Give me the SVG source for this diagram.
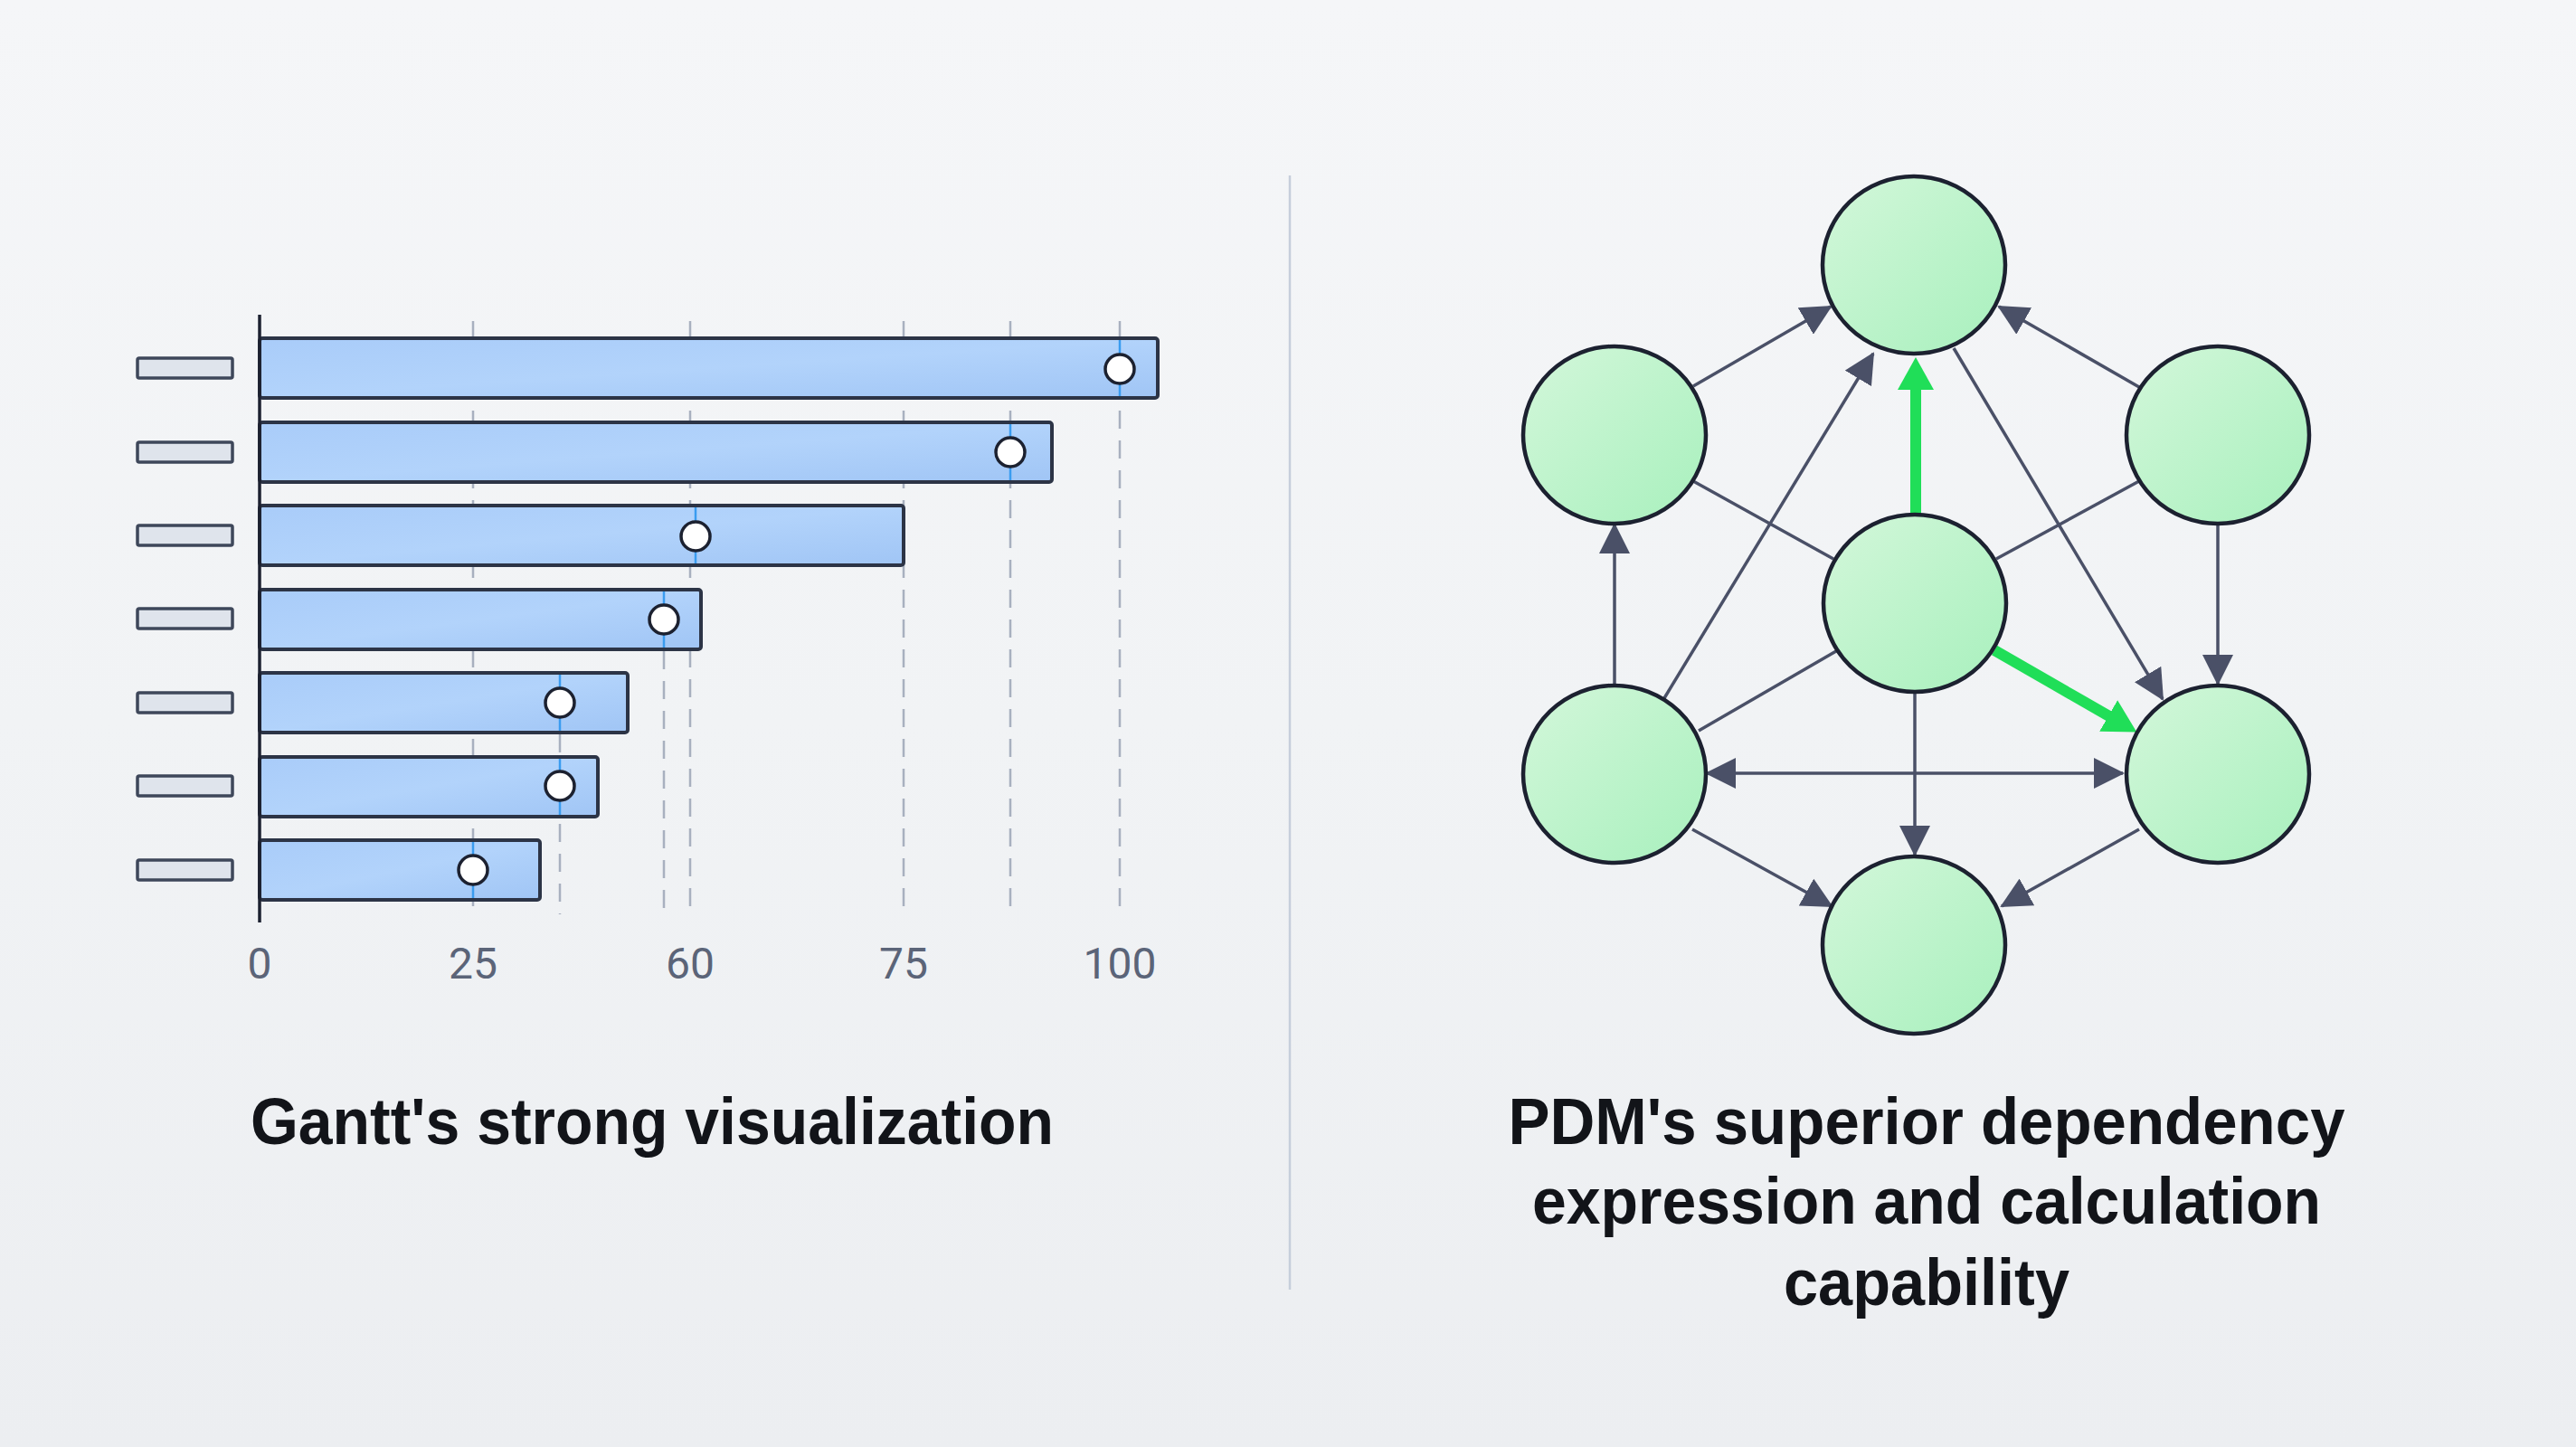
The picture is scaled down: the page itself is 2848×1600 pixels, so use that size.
<svg xmlns="http://www.w3.org/2000/svg" width="2848" height="1600" viewBox="0 0 2848 1600">
<defs>
<linearGradient id="bg" x1="0" y1="0" x2="0" y2="1">
<stop offset="0" stop-color="#f5f6f8"/>
<stop offset="0.5" stop-color="#f1f3f5"/>
<stop offset="1" stop-color="#eceef1"/>
</linearGradient>
<linearGradient id="barFill" x1="0" y1="0" x2="1" y2="1">
<stop offset="0" stop-color="#a9ccf9"/>
<stop offset="0.5" stop-color="#b2d3fb"/>
<stop offset="1" stop-color="#a0c5f5"/>
</linearGradient>
<linearGradient id="nodeFill" x1="0" y1="0" x2="1" y2="1">
<stop offset="0" stop-color="#d3f7da"/>
<stop offset="1" stop-color="#a8f0bd"/>
</linearGradient>
<marker id="arrowDark" markerUnits="userSpaceOnUse" viewBox="0 0 34 34" markerWidth="34" markerHeight="34" refX="32" refY="17" orient="auto-start-reverse">
<path d="M0,0 L34,17 L0,34 z" fill="#4a5067"/>
</marker>
<marker id="arrowGreen" markerUnits="userSpaceOnUse" viewBox="0 0 36 40" markerWidth="36" markerHeight="40" refX="1" refY="20" orient="auto">
<path d="M0,0 L36,20 L0,40 z" fill="#20de58"/>
</marker>
<style>
.label-rect{fill:#dfe4ec;stroke:#3e475a;stroke-width:3.5}
.bar{fill:url(#barFill);stroke:#2c3446;stroke-width:4}
.grid{stroke:#a8b0bf;stroke-width:2.5;stroke-dasharray:20 13;fill:none}
.tick{stroke:#3a9cf0;stroke-width:2.5}
.marker-dot{fill:#ffffff;stroke:#1c2130;stroke-width:3.5}
.axis-num{font-family:Roboto,"Liberation Sans",Arial,sans-serif;font-size:48px;fill:#5b6478;text-anchor:middle}
.title{font-family:"Liberation Sans",Arial,Helvetica,sans-serif;font-weight:bold;font-size:72px;fill:#121419;text-anchor:middle}
.node{fill:url(#nodeFill);stroke:#1c2130;stroke-width:4.5}
.edge{stroke:#4a5067;stroke-width:3.5;fill:none}
.edge-arrow{marker-end:url(#arrowDark)}
.edge-green{stroke:#20de58;stroke-width:12;fill:none;marker-end:url(#arrowGreen)}
</style>
</defs>
<rect x="0" y="0" width="2848" height="1600" fill="url(#bg)"/>

<!-- Gantt chart -->
<g id="gantt-grid">
<line class="grid" x1="523" y1="355" x2="523" y2="1011"/>
<line class="grid" x1="619" y1="812" x2="619" y2="1011"/>
<line class="grid" x1="734" y1="720" x2="734" y2="1011"/>
<line class="grid" x1="763" y1="355" x2="763" y2="1011"/>
<line class="grid" x1="999" y1="355" x2="999" y2="1011"/>
<line class="grid" x1="1117" y1="355" x2="1117" y2="1011"/>
<line class="grid" x1="1238" y1="355" x2="1238" y2="1011"/>
</g>

<g id="gantt-row-1">
<rect class="label-rect" x="152" y="396" width="105" height="22" rx="2"/>
<rect class="bar" x="287" y="374" width="993" height="66" rx="3"/>
<line class="tick" x1="1238" y1="376" x2="1238" y2="438"/>
<circle class="marker-dot" cx="1238" cy="408" r="16"/>
</g>
<g id="gantt-row-2">
<rect class="label-rect" x="152" y="489" width="105" height="22" rx="2"/>
<rect class="bar" x="287" y="467" width="876" height="66" rx="3"/>
<line class="tick" x1="1117" y1="469" x2="1117" y2="531"/>
<circle class="marker-dot" cx="1117" cy="500" r="16"/>
</g>
<g id="gantt-row-3">
<rect class="label-rect" x="152" y="581" width="105" height="22" rx="2"/>
<rect class="bar" x="287" y="559" width="712" height="66" rx="3"/>
<line class="tick" x1="769" y1="561" x2="769" y2="623"/>
<circle class="marker-dot" cx="769" cy="593" r="16"/>
</g>
<g id="gantt-row-4">
<rect class="label-rect" x="152" y="673" width="105" height="22" rx="2"/>
<rect class="bar" x="287" y="652" width="488" height="66" rx="3"/>
<line class="tick" x1="734" y1="654" x2="734" y2="716"/>
<circle class="marker-dot" cx="734" cy="685" r="16"/>
</g>
<g id="gantt-row-5">
<rect class="label-rect" x="152" y="766" width="105" height="22" rx="2"/>
<rect class="bar" x="287" y="744" width="407" height="66" rx="3"/>
<line class="tick" x1="619" y1="746" x2="619" y2="808"/>
<circle class="marker-dot" cx="619" cy="777" r="16"/>
</g>
<g id="gantt-row-6">
<rect class="label-rect" x="152" y="858" width="105" height="22" rx="2"/>
<rect class="bar" x="287" y="837" width="374" height="66" rx="3"/>
<line class="tick" x1="619" y1="839" x2="619" y2="901"/>
<circle class="marker-dot" cx="619" cy="869" r="16"/>
</g>
<g id="gantt-row-7">
<rect class="label-rect" x="152" y="951" width="105" height="22" rx="2"/>
<rect class="bar" x="287" y="929" width="310" height="66" rx="3"/>
<line class="tick" x1="523" y1="931" x2="523" y2="993"/>
<circle class="marker-dot" cx="523" cy="962" r="16"/>
</g>

<g id="gantt-axis">
<line x1="287" y1="348" x2="287" y2="1020" stroke="#1c2130" stroke-width="3.5"/>
<text class="axis-num" x="287" y="1082">0</text>
<text class="axis-num" x="523" y="1082">25</text>
<text class="axis-num" x="763" y="1082">60</text>
<text class="axis-num" x="999" y="1082">75</text>
<text class="axis-num" x="1238" y="1082">100</text>
</g>

<g id="gantt-title">
<text class="title" x="721" y="1265" textLength="888" lengthAdjust="spacingAndGlyphs">Gantt's strong visualization</text>
</g>

<g id="divider">
<line x1="1426" y1="194" x2="1426" y2="1426" stroke="#c6cedb" stroke-width="2.5"/>
</g>

<!-- PDM network connectors -->
<g id="connectors">
<line class="edge edge-arrow" x1="1872" y1="427" x2="2024" y2="339"/>
<line class="edge edge-arrow" x1="2365" y1="428" x2="2210" y2="339"/>
<line class="edge edge-arrow" x1="1840" y1="772" x2="2071" y2="391"/>
<line class="edge edge-arrow" x1="2160" y1="385" x2="2391" y2="773"/>
<line class="edge" x1="1872" y1="532" x2="2027" y2="618"/>
<line class="edge" x1="2365" y1="532" x2="2207" y2="618"/>
<line class="edge" x1="1878" y1="808" x2="2030" y2="720"/>
<line class="edge edge-arrow" x1="1785" y1="757" x2="1785" y2="580"/>
<line class="edge edge-arrow" x1="2452" y1="580" x2="2452" y2="756"/>
<line class="edge" x1="1887" y1="855" x2="2347" y2="855" marker-start="url(#arrowDark)" marker-end="url(#arrowDark)"/>
<line class="edge edge-arrow" x1="2117" y1="765" x2="2117" y2="945"/>
<line class="edge edge-arrow" x1="1871" y1="917" x2="2025" y2="1002"/>
<line class="edge edge-arrow" x1="2365" y1="917" x2="2213" y2="1002"/>
<line class="edge-green" x1="2118" y1="568" x2="2118" y2="430"/>
<line class="edge-green" x1="2205" y1="719" x2="2332" y2="792"/>
</g>

<g id="node-top"><ellipse class="node" cx="2116" cy="293" rx="101" ry="98"/></g>
<g id="node-upper-left"><ellipse class="node" cx="1785" cy="481" rx="101" ry="98"/></g>
<g id="node-upper-right"><ellipse class="node" cx="2452" cy="481" rx="101" ry="98"/></g>
<g id="node-center"><ellipse class="node" cx="2117" cy="667" rx="101" ry="98"/></g>
<g id="node-lower-left"><ellipse class="node" cx="1785" cy="856" rx="101" ry="98"/></g>
<g id="node-lower-right"><ellipse class="node" cx="2452" cy="856" rx="101" ry="98"/></g>
<g id="node-bottom"><ellipse class="node" cx="2116" cy="1045" rx="101" ry="98"/></g>

<g id="pdm-title">
<text class="title" x="2130" y="1265" textLength="925" lengthAdjust="spacingAndGlyphs">PDM's superior dependency</text>
<text class="title" x="2130" y="1353" textLength="872" lengthAdjust="spacingAndGlyphs">expression and calculation</text>
<text class="title" x="2130" y="1443" textLength="316" lengthAdjust="spacingAndGlyphs">capability</text>
</g>
</svg>
